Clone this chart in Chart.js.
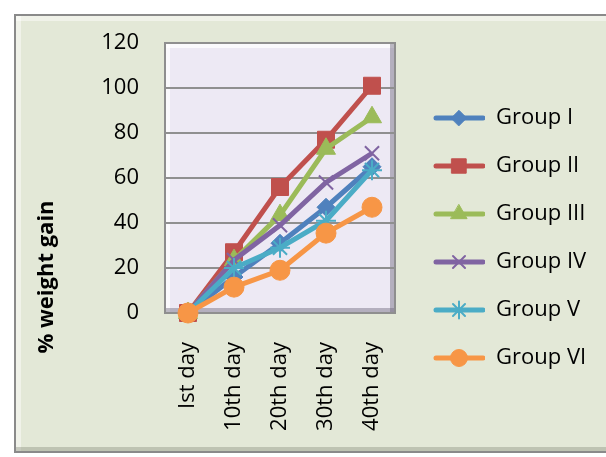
<!DOCTYPE html>
<html>
<head>
<meta charset="utf-8">
<title>% weight gain</title>
<style>
  html, body { margin: 0; padding: 0; background: #fff; }
  #wrap { width: 606px; height: 457px; }
</style>
</head>
<body>
<div id="wrap"><canvas id="chart" width="606" height="457"></canvas></div>
<script src="https://cdn.jsdelivr.net/npm/chart.js@4.4.1/dist/chart.umd.min.js"></script>
<script>
// --- data ---
const days = ['Ist day', '10th day', '20th day', '30th day', '40th day'];
const groupNames = ['Group I', 'Group II', 'Group III', 'Group IV', 'Group V', 'Group VI'];
const groupI = [0, 16, 31, 47, 65];
const groupII = [0, 27, 56, 77, 101];
const groupIII = [0, 23.5, 43.5, 73, 87];
const groupIV = [0, 23.5, 39, 58, 71];
const groupV = [0, 20, 29, 41, 63.5];
const groupVI = [0, 11.5, 19, 35.5, 47];
const yTicks = [0, 20, 40, 60, 80, 100, 120];

// --- look ---
const colors = ['#4f81bd', '#c0504d', '#9bbb59', '#8064a2', '#4bacc6', '#f79646'];
const markers = ['rectRot', 'rect', 'triangle', 'crossRot', 'star', 'circle'];
const markerSize = [9, 12, 11, 10, 10, 10];
const fontFamily = "'Open Sans', sans-serif";
Chart.defaults.font.family = fontFamily;
Chart.defaults.color = '#000';

const seriesValues = [groupI, groupII, groupIII, groupIV, groupV, groupVI];

// legend geometry: the legend box should be 211px wide so the plot ends at x=395
const legendFontSize = 22;
const legendPad = 26;
const sampleWidth = 64;
const legendWidth = 211;
const measure = document.createElement('canvas').getContext('2d');
measure.font = legendFontSize + 'px ' + fontFamily;
const widestLabel = Math.max(...groupNames.map(n => measure.measureText(n).width));
// chart.js legend width = padding + sample + fontSize/2 + text + 10
const legendNatural = legendPad + sampleWidth + legendFontSize / 2 + widestLabel + 10;
const rightPad = Math.max(0, legendWidth - legendNatural);

// small canvas with line + marker for the legend sample
function legendSample(i) {
    const c = document.createElement('canvas');
    c.width = sampleWidth;
    c.height = 26;
    const g = c.getContext('2d');
    g.strokeStyle = colors[i];
    g.lineWidth = 5;
    g.lineCap = 'round';
    g.beginPath();
    g.moveTo(15, 13);
    g.lineTo(62, 13);
    g.stroke();
    g.fillStyle = colors[i];
    g.lineWidth = markers[i].startsWith('cross') || markers[i] === 'star' ? 2 : 1;
    Chart.helpers.drawPoint(g, { pointStyle: markers[i], radius: markerSize[i] * 0.85, rotation: 0, borderWidth: g.lineWidth }, 38, 13);
    return c;
}

const datasets = groupNames.map((name, i) => {
    const thin = markers[i].startsWith('cross') || markers[i] === 'star';
    return {
        label: name,
        data: seriesValues[i],
        borderColor: colors[i],
        backgroundColor: colors[i],
        borderWidth: 5,
        pointStyle: markers[i],
        pointRadius: markerSize[i],
        pointBorderWidth: thin ? 2 : 1,
        pointBorderColor: colors[i],
        pointBackgroundColor: colors[i],
        tension: 0,
        clip: false,
        order: groupNames.length - i // later groups drawn on top
    };
});

// chart box + plot area frames (excel-like bevel)
const frames = {
    id: 'frames',
    beforeDraw(chart) {
        const ctx = chart.ctx;
        const a = chart.chartArea;
        ctx.save();
        ctx.fillStyle = '#fff';
        ctx.fillRect(0, 0, chart.width, chart.height);

        // outer chart box
        ctx.fillStyle = '#e3e8d7';
        ctx.fillRect(14, 14, chart.width, 439);
        ctx.fillStyle = 'rgba(255,255,255,0.45)';
        ctx.fillRect(16, 16, 5, 435);
        ctx.fillRect(16, 16, chart.width, 5);
        ctx.fillStyle = 'rgba(120,125,110,0.35)';
        ctx.fillRect(16, 447, chart.width, 5);
        ctx.strokeStyle = '#8a8a8a';
        ctx.lineWidth = 2;
        ctx.strokeRect(15, 15, chart.width, 437);

        // plot area
        const x0 = a.left - 1, y0 = a.top - 1, w = a.right - a.left + 2, h = a.bottom - a.top + 2;
        ctx.fillStyle = '#ede9f4';
        ctx.fillRect(x0, y0, w, h);
        ctx.fillStyle = 'rgba(255,255,255,0.7)';
        ctx.fillRect(x0 + 2, y0 + 2, 4, h - 4);
        ctx.fillRect(x0 + 2, y0 + 2, w - 4, 4);
        ctx.fillStyle = 'rgba(110,105,125,0.45)';
        ctx.fillRect(x0 + w - 6, y0 + 2, 4, h - 4);
        ctx.fillRect(x0 + 2, y0 + h - 6, w - 4, 4);
        ctx.strokeStyle = '#8e8e8e';
        ctx.lineWidth = 2;
        ctx.strokeRect(x0 + 1, y0 + 1, w - 2, h - 2);
        ctx.restore();
    }
};

// rotated y axis title, placed like the original (lower than the axis centre)
const yTitle = {
    id: 'yTitle',
    afterDraw(chart) {
        const ctx = chart.ctx;
        ctx.save();
        ctx.translate(47, 277);
        ctx.rotate(-Math.PI / 2);
        ctx.font = 'bold 22px ' + fontFamily;
        ctx.fillStyle = '#000';
        ctx.textAlign = 'center';
        ctx.textBaseline = 'middle';
        ctx.fillText('% weight gain', 0, 0);
        ctx.restore();
    }
};

new Chart(document.getElementById('chart'), {
    type: 'line',
    data: { labels: days, datasets: datasets },
    options: {
        responsive: false,
        animation: false,
        layout: { padding: { top: 19, left: 0, right: rightPad, bottom: 0 } },
        plugins: {
            title: {
                display: true,
                text: '',
                fullSize: false,
                font: { size: 10, lineHeight: 1 },
                padding: { top: 14, bottom: 0 }
            },
            tooltip: { enabled: false },
            legend: {
                position: 'right',
                align: 'center',
                maxWidth: legendWidth,
                labels: {
                    usePointStyle: true,
                    pointStyleWidth: sampleWidth,
                    padding: legendPad,
                    color: '#000',
                    font: { size: legendFontSize, family: fontFamily },
                    generateLabels: (chart) => groupNames.map((name, i) => ({
                        text: name,
                        datasetIndex: i,
                        pointStyle: legendSample(i),
                        fillStyle: colors[i],
                        strokeStyle: colors[i],
                        lineWidth: 0,
                        hidden: false
                    }))
                }
            }
        },
        scales: {
            x: {
                offset: true,
                grid: { display: false },
                border: { display: false },
                ticks: {
                    minRotation: 90,
                    maxRotation: 90,
                    autoSkip: false,
                    padding: 21,
                    color: '#000',
                    font: { size: 22 }
                },
                afterFit: (scale) => { scale.height = 144; }
            },
            y: {
                min: 0,
                max: 120,
                border: { display: false },
                grid: { color: '#8f8f8f', lineWidth: 2, drawTicks: false },
                afterBuildTicks: (scale) => { scale.ticks = yTicks.map(v => ({ value: v })); },
                ticks: {
                    padding: 26,
                    color: '#000',
                    font: { size: 22 }
                },
                afterFit: (scale) => { scale.width = 165; }
            }
        }
    },
    plugins: [frames, yTitle]
});
</script>
</body>
</html>
